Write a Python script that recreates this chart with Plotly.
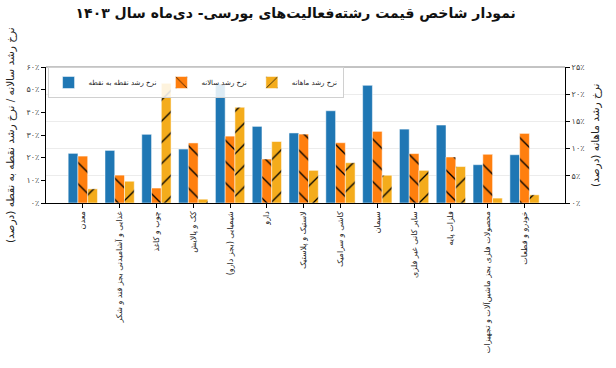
import plotly.graph_objects as go

categories = ["معدن", "غذایی و آشامیدنی بجز قند و شکر", "چوب و کاغذ", "کک و پالایش",
              "شیمیایی (بجز دارو)", "دارو", "لاستیک و پلاستیک", "کاشی و سرامیک", "سیمان",
              "سایر کانی غیر فلزی", "فلزات پایه", "محصولات فلزی بجز ماشین‌آلات و تجهیزات",
              "خودرو و قطعات"]
point_growth = [21.9, 23.2, 30.3, 23.8, 52.5, 33.8, 30.9, 40.7, 51.9, 32.6, 34.4, 16.9, 21.3]
annual_growth = [20.7, 12.3, 6.6, 26.5, 29.5, 19.4, 30.4, 26.6, 31.6, 21.8, 20.3, 21.5, 30.7]
monthly_growth = [2.6, 4.0, 22.0, 0.7, 17.6, 11.3, 6.0, 7.4, 5.1, 6.0, 6.7, 0.9, 1.5]

left_ticks = [0, 10, 20, 30, 40, 50, 60]
left_ticktext = ["۰٪", "۱۰٪", "۲۰٪", "۳۰٪", "۴۰٪", "۵۰٪", "۶۰٪"]
right_ticks = [0, 5, 10, 15, 20, 25]
right_ticktext = ["۰٪", "۵٪", "۱۰٪", "۱۵٪", "۲۰٪", "۲۵٪"]

names = ["نرخ رشد نقطه به نقطه", "نرخ رشد سالانه", "نرخ رشد ماهانه"]
title = "نمودار شاخص قیمت رشته‌فعالیت‌های بورسی- دی‌ماه سال ۱۴۰۳"
left_title = "نرخ رشد سالانه / نرخ رشد نقطه به نقطه (درصد)"
right_title = "نرخ رشد ماهانه (درصد)"

FONT = "DejaVu Sans"
x = list(range(len(categories)))
W = 0.265

fig = go.Figure()
fig.add_trace(go.Bar(x=x, y=point_growth, name=names[0], width=W, offset=-1.5 * W,
                     marker=dict(color="#1f77b4", line=dict(color="white", width=0.5)),
                     yaxis="y"))
fig.add_trace(go.Bar(x=x, y=annual_growth, name=names[1], width=W, offset=-0.5 * W,
                     marker=dict(color="#ff7f0e", line=dict(color="white", width=0.5),
                                 pattern=dict(shape="\\", fgcolor="black", fgopacity=1,
                                              size=15, solidity=0.09)),
                     yaxis="y"))
fig.add_trace(go.Bar(x=x, y=monthly_growth, name=names[2], width=W, offset=0.5 * W,
                     marker=dict(color="#f4ac1c", line=dict(color="white", width=0.5),
                                 pattern=dict(shape="/", fgcolor="black", fgopacity=1,
                                              size=15, solidity=0.09)),
                     yaxis="y2"))

fig.update_layout(
    width=616, height=368,
    margin=dict(l=46, r=51, t=67, b=165),
    paper_bgcolor="white", plot_bgcolor="white",
    font=dict(family=FONT, size=9, color="#333333"),
    barmode="overlay",
    title=dict(text="<b>" + title + "</b>", xref="container", yref="container",
               x=0.48, xanchor="center", y=0.965, yanchor="middle",
               font=dict(family=FONT, size=14, color="#111111")),
    xaxis=dict(range=[-1.0, 13.1], tickvals=x, ticktext=categories, tickangle=-90,
               showline=True, linecolor="black", linewidth=1, ticks="outside",
               ticklen=4, tickcolor="black", showgrid=False, zeroline=False,
               tickfont=dict(size=8, color="#222222")),
    yaxis=dict(range=[0, 60], tickvals=left_ticks, ticktext=left_ticktext,
               showline=True, linecolor="black", linewidth=1, ticks="outside",
               ticklen=4, tickcolor="black", showgrid=False, zeroline=False,
               tickfont=dict(size=8, color="#444444")),
    yaxis2=dict(range=[0, 25], tickvals=right_ticks, ticktext=right_ticktext,
                overlaying="y", side="right",
                showline=True, linecolor="black", linewidth=1, ticks="outside",
                ticklen=4, tickcolor="black", showgrid=True, gridcolor="#ececec",
                zeroline=False, tickfont=dict(size=8, color="#444444")),
    legend=dict(orientation="h", x=0.003, y=1.0, xanchor="left", yanchor="top",
                bgcolor="rgba(255,255,255,0.85)", bordercolor="#d0d0d0", borderwidth=1,
                font=dict(size=7, color="#222222"), itemwidth=30, tracegroupgap=0),
    showlegend=True,
)
fig.add_shape(type="line", xref="paper", yref="paper", x0=0, x1=1, y0=1, y1=1,
              line=dict(color="#888888", width=1))
fig.add_annotation(text=left_title, textangle=-90, xref="paper", yref="paper",
                   x=-36 / 520, y=0.5, xanchor="center", yanchor="middle", showarrow=False,
                   font=dict(size=10.5, color="#222222"))
fig.add_annotation(text=right_title, textangle=-90, xref="paper", yref="paper",
                   x=1 + 30 / 520, y=0.5, xanchor="center", yanchor="middle", showarrow=False,
                   font=dict(size=10.5, color="#222222"))

fig.write_html("out.html", config={"displayModeBar": False},
               post_script="document.body.style.margin='0';")
